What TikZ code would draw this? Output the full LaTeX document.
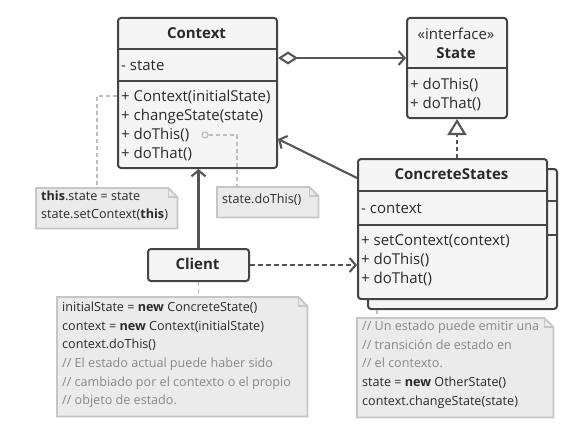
\documentclass[tikz,border=0pt]{standalone}
\usepackage{fontspec}
\setmainfont{Open Sans}
\usetikzlibrary{arrows.meta}
\definecolor{boxfill}{HTML}{F5F5F5}
\definecolor{boxline}{HTML}{444444}
\definecolor{notefill}{HTML}{EBEBEB}
\definecolor{noteline}{HTML}{C6C6C6}
\definecolor{txt}{HTML}{2A2A2A}
\definecolor{cmt}{HTML}{888888}
\definecolor{conn}{HTML}{555555}
\definecolor{noteconn}{HTML}{BDBDBD}
\tikzset{
  classbox/.style={draw=boxline, fill=boxfill, line width=2pt, rounded corners=3pt, inner sep=0pt, anchor=north west},
  divider/.style={draw=boxline, line width=2pt},
  lbl/.style={text=txt, inner sep=0pt, anchor=base west, font=\fontsize{15}{16}\selectfont},
  ttl/.style={text=txt, inner sep=0pt, anchor=base, font=\fontsize{15}{16}\selectfont\bfseries},
  noteframe/.style={inner sep=0pt, anchor=north west},
  notetext/.style={text=txt, inner sep=0pt, anchor=north west, align=left, font=\fontsize{12.6}{18.6}\selectfont},
  noteconnector/.style={draw=noteconn, line width=1.5pt, dash pattern=on 4pt off 3pt},
  conline/.style={draw=conn, line width=2.1pt},
}
\newcommand{\drawnote}[1]{%
  \draw[draw=noteline, fill=notefill, line width=1.8pt] (#1.north west) -- ([xshift=-9pt]#1.north east) -- ([yshift=-9pt]#1.north east) -- (#1.south east) -- (#1.south west) -- cycle;
  \draw[draw=noteline, line width=1.5pt] ([xshift=-9pt]#1.north east) |- ([yshift=-9pt]#1.north east);}
\begin{document}
\begin{tikzpicture}[x=1pt,y=-1pt]
\useasboundingbox (0,0) rectangle (569,441);

% ---------- Context ----------
\node[classbox, minimum width=159pt, minimum height=150pt] (ctx) at (117,17) {};
\draw[divider] (ctx.west |- 0,49) -- (ctx.east |- 0,49);
\draw[divider] (ctx.west |- 0,81) -- (ctx.east |- 0,81);
\node[ttl] (ctxt) at (196.5,39) {Context};
\node[lbl] (ctxm0) at (121,70.5) {- state};
\node[lbl] (ctxm1) at (121,101.5) {+ Context(initialState)};
\node[lbl] (ctxm2) at (121,120.5) {+ changeState(state)};
\node[lbl] (ctxm3) at (121,139.5) {+ doThis()};
\node[lbl] (ctxm4) at (121,158.5) {+ doThat()};

% ---------- State ----------
\node[classbox, minimum width=100pt, minimum height=100pt] (state) at (406,17) {};
\draw[divider] (state.west |- 0,68) -- (state.east |- 0,68);
\node[text=txt, inner sep=0pt, anchor=base, font=\fontsize{15}{16}\selectfont] (sti) at (456,39.5) {«interface»};
\node[ttl] (stt) at (456,58.5) {State};
\node[lbl] (stm1) at (410,89.5) {+ doThis()};
\node[lbl] (stm2) at (410,108.5) {+ doThat()};

% ---------- ConcreteStates ----------
\node[classbox, minimum width=189pt, minimum height=140pt] (csb) at (367,168) {};
\draw[divider] (csb.west |- 0,201) -- (csb.east |- 0,201);
\draw[divider] (csb.west |- 0,235) -- (csb.east |- 0,235);
\node[classbox, minimum width=189pt, minimum height=140pt] (cs) at (357,158) {};
\draw[divider] (cs.west |- 0,191) -- (cs.east |- 0,191);
\draw[divider] (cs.west |- 0,225) -- (cs.east |- 0,225);
\node[ttl] (cst) at (451.5,179.5) {ConcreteStates};
\node[lbl] (csa) at (361,213) {- context};
\node[lbl] (csm1) at (361,245.5) {+ setContext(context)};
\node[lbl] (csm2) at (361,264.5) {+ doThis()};
\node[lbl] (csm3) at (361,283.5) {+ doThat()};

% ---------- Client ----------
\node[classbox, minimum width=101pt, minimum height=32pt] (client) at (147,248) {};
\node[ttl] (clt) at (197.5,269.5) {Client};

% ---------- Notes ----------
\node[noteframe, minimum width=141pt, minimum height=40pt] (n1) at (36,188) {};
\drawnote{n1}
\node[notetext] (n1t) at (41,190.5) {\textbf{this}.state = state\\state.setContext(\textbf{this})};

\node[noteframe, minimum width=101pt, minimum height=30pt] (n2) at (217,187) {};
\drawnote{n2}
\node[notetext] (n2t) at (222,194) {state.doThis()};

\node[noteframe, minimum width=250pt, minimum height=119pt] (n3) at (57,297) {};
\drawnote{n3}
\node[notetext] (n3t) at (62,302) {initialState = \textbf{new} ConcreteState()\\context = \textbf{new} Context(initialState)\\context.doThis()\\{\color{cmt}// El estado actual puede haber sido}\\{\color{cmt}// cambiado por el contexto o el propio}\\{\color{cmt}// objeto de estado.}};

\node[noteframe, minimum width=196pt, minimum height=99pt] (n4) at (357,318) {};
\drawnote{n4}
\node[notetext] (n4t) at (362,321) {{\color{cmt}// Un estado puede emitir una}\\{\color{cmt}// transición de estado en}\\{\color{cmt}// el contexto.}\\state = \textbf{new} OtherState()\\context.changeState(state)};

% ---------- Note connectors ----------
\coordinate (c1) at (97,96);
\draw[noteconnector] (c1 -| ctx.west) -- (c1) -- (c1 |- n1.north);
\coordinate (c2) at (237,135);
\node[circle, draw=noteconn, fill=boxfill, line width=1.3pt, inner sep=0pt, minimum size=6pt] (dot) at (205,135) {};
\draw[noteconnector] (dot.east) -- (c2) -- (c2 |- n2.north);
\draw[noteconnector] (client.south) -- (client.south |- n3.north);
\draw[noteconnector] ([xshift=10pt]csb.south west) -- ([xshift=10pt]csb.south west |- n4.north);

% ---------- Connectors ----------
\draw[conline, {Diamond[length=20pt,width=13pt,fill=white]}-{Straight Barb[length=6pt,width=14pt]}]
  ([yshift=-41pt]ctx.north east) -- ([yshift=-41pt]ctx.north east -| state.west);
\draw[conline, dash pattern=on 4pt off 3pt, -{Triangle[open,length=16pt,width=19pt,fill=white]}]
  (state.south |- cs.north) -- (state.south);
\draw[conline, -{Straight Barb[length=6pt,width=14pt]}]
  ([yshift=-20pt]cs.north west) -- ([yshift=30pt]ctx.south east);
\draw[conline, -{Straight Barb[length=6pt,width=14pt]}]
  (client.north) -- (client.north |- ctx.south);
\draw[conline, dash pattern=on 5pt off 3pt, -{Straight Barb[length=6pt,width=14pt]}]
  (client.east) -- (client.east -| cs.west);
\end{tikzpicture}
\end{document}
